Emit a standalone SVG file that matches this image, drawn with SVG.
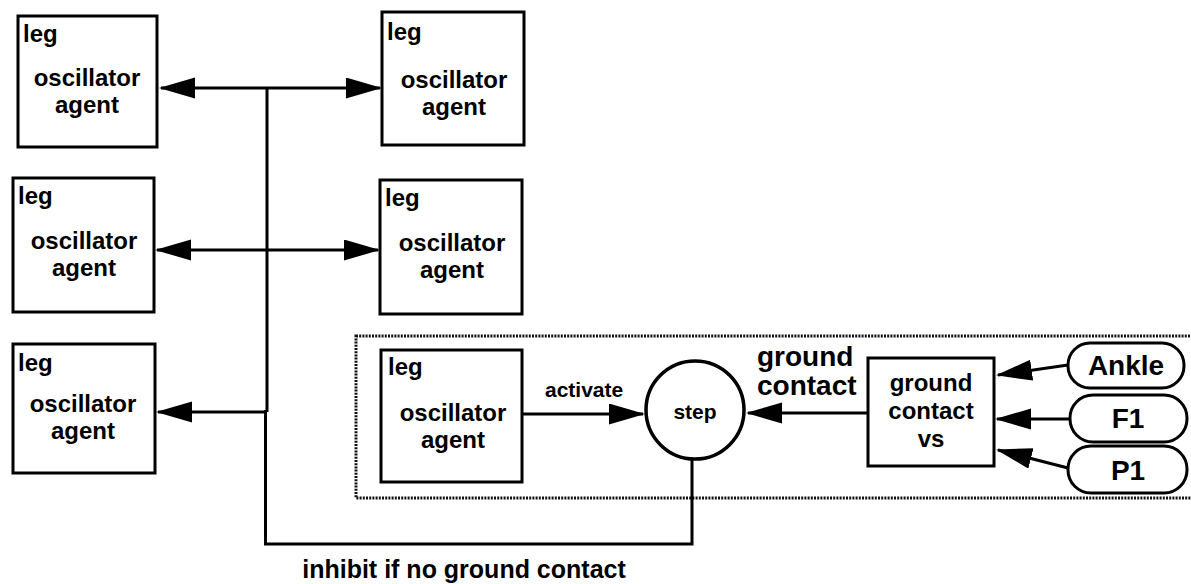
<svg xmlns="http://www.w3.org/2000/svg" width="1191" height="584" viewBox="0 0 1191 584">
<style>
  .box{fill:#fff;stroke:#000;stroke-width:3}
  .pill{fill:#fff;stroke:#000;stroke-width:3}
  .line{fill:none;stroke:#000;stroke-width:3}
  .arrow{fill:none;stroke:#000;stroke-width:3;marker-end:url(#ah)}
  .darrow{fill:none;stroke:#000;stroke-width:3;marker-end:url(#ah);marker-start:url(#ahs)}
  .group{fill:none;stroke:#111;stroke-width:3;stroke-dasharray:2 1.2}
  text{font-family:"Liberation Sans",Arial,Helvetica,sans-serif;font-weight:bold;fill:#000}
  .t24{font-size:24px}
  .mid{text-anchor:middle}
</style>
<defs>
  <marker id="ah" markerUnits="userSpaceOnUse" markerWidth="38" markerHeight="22" refX="34" refY="10.5" orient="auto">
    <path d="M0,0 L36,10.5 L0,21 Z" fill="#000"/>
  </marker>
  <marker id="ahs" markerUnits="userSpaceOnUse" markerWidth="38" markerHeight="22" refX="34" refY="10.5" orient="auto-start-reverse">
    <path d="M0,0 L36,10.5 L0,21 Z" fill="#000"/>
  </marker>
</defs>
<rect width="1191" height="584" fill="#fff"/>

<g id="subsystem">
  <rect class="group" x="356" y="336" width="845" height="162"/>
</g>

<g id="connectors">
  <line class="darrow" x1="161" y1="88" x2="380" y2="88"/>
  <line class="darrow" x1="157" y1="250" x2="378" y2="250"/>
  <line class="line" x1="267" y1="88" x2="267" y2="412"/>
  <line class="arrow" x1="267" y1="412" x2="158" y2="412"/>
  <path class="line" d="M692,459 V544 H265.5 V410"/>
  <line class="arrow" x1="522" y1="414" x2="643" y2="414"/>
  <line class="arrow" x1="868" y1="413" x2="748" y2="413"/>
  <line class="arrow" x1="1068" y1="365" x2="998" y2="375"/>
  <line class="arrow" x1="1070" y1="419" x2="997" y2="419"/>
  <line class="arrow" x1="1068" y1="468" x2="998" y2="450"/>
  <text x="545" y="397" style="font-size:21px">activate</text>
  <text x="757" y="366" style="font-size:28px">ground</text>
  <text x="757" y="395" style="font-size:28px">contact</text>
  <text x="464" y="578" class="mid" style="font-size:25px">inhibit if no ground contact</text>
</g>

<g id="leg1">
  <rect class="box" x="18" y="16" width="139" height="131"/>
  <text class="t24" x="23" y="42">leg</text>
  <text class="t24 mid" x="87" y="86">oscillator</text>
  <text class="t24 mid" x="87" y="113">agent</text>
</g>
<g id="leg2">
  <rect class="box" x="382" y="12" width="142" height="133"/>
  <text class="t24" x="387" y="40">leg</text>
  <text class="t24 mid" x="454" y="88">oscillator</text>
  <text class="t24 mid" x="454" y="115">agent</text>
</g>
<g id="leg3">
  <rect class="box" x="13" y="178" width="141" height="134"/>
  <text class="t24" x="18" y="204">leg</text>
  <text class="t24 mid" x="84" y="249">oscillator</text>
  <text class="t24 mid" x="84" y="276">agent</text>
</g>
<g id="leg4">
  <rect class="box" x="380" y="180" width="142" height="134"/>
  <text class="t24" x="385" y="206">leg</text>
  <text class="t24 mid" x="452" y="251">oscillator</text>
  <text class="t24 mid" x="452" y="278">agent</text>
</g>
<g id="leg5">
  <rect class="box" x="13" y="344" width="142" height="129"/>
  <text class="t24" x="18" y="371">leg</text>
  <text class="t24 mid" x="83" y="412">oscillator</text>
  <text class="t24 mid" x="83" y="439">agent</text>
</g>
<g id="leg6">
  <rect class="box" x="381" y="350" width="141" height="132"/>
  <text class="t24" x="388" y="375">leg</text>
  <text class="t24 mid" x="453" y="421">oscillator</text>
  <text class="t24 mid" x="453" y="448">agent</text>
</g>
<g id="step">
  <circle cx="695" cy="410" r="49" fill="#fff" stroke="#000" stroke-width="3.5"/>
  <text class="mid" x="695" y="419" style="font-size:21px">step</text>
</g>
<g id="groundcontactvs">
  <rect class="box" x="868" y="358" width="126" height="108"/>
  <text class="t24 mid" x="931" y="391">ground</text>
  <text class="t24 mid" x="931" y="419">contact</text>
  <text class="t24 mid" x="931" y="447">vs</text>
</g>
<g id="ankle">
  <rect class="pill" x="1068" y="343" width="116" height="45" rx="22"/>
  <text class="mid" x="1126" y="375" style="font-size:28px">Ankle</text>
</g>
<g id="f1">
  <rect class="pill" x="1070" y="395" width="117" height="47" rx="23"/>
  <text class="mid" x="1128" y="428" style="font-size:28px">F1</text>
</g>
<g id="p1">
  <rect class="pill" x="1068" y="446" width="119" height="47" rx="23"/>
  <text class="mid" x="1128" y="480" style="font-size:28px">P1</text>
</g>
</svg>
